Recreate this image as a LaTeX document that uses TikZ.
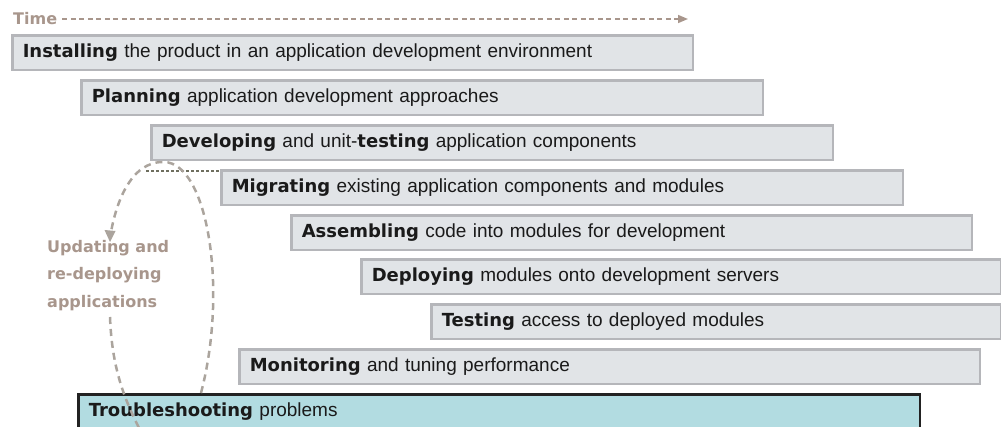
\documentclass[tikz,border=0pt]{standalone}
\usepackage{fontspec}
\setmainfont{Liberation Sans}
\newfontfamily\heavyfam{DejaVu Sans}
\usetikzlibrary{arrows.meta}
\definecolor{boxfill}{HTML}{E1E4E7}
\definecolor{boxline}{HTML}{B5B6BA}
\definecolor{tsfill}{HTML}{B2DCE1}
\definecolor{tsline}{HTML}{222222}
\definecolor{brownish}{HTML}{A8968C}
\definecolor{loopcol}{HTML}{ABA49D}
\definecolor{olivecol}{HTML}{6E6E5E}
\definecolor{txt}{HTML}{1A1A1A}
\newcommand\hv[1]{{\heavyfam\bfseries\fontsize{18}{22}\selectfont #1}}
\tikzset{
  stagebox/.style={draw=boxline, fill=boxfill, line width=2.5pt, rectangle,
    minimum height=34.5pt, inner xsep=10.25pt, inner ysep=0pt, anchor=north west,
    align=left, font=\fontsize{19}{22}\selectfont, text=txt},
  tsbox/.style={stagebox, draw=tsline, fill=tsfill},
  brownlabel/.style={text=brownish, inner sep=0pt, font=\heavyfam\bfseries\fontsize{16}{27.5}\selectfont},
  loopline/.style={draw=loopcol, line width=2.5pt, dash pattern=on 7pt off 5pt},
  timeline/.style={draw=brownish, line width=1.6pt, dash pattern=on 5pt off 3.5pt},
  oliveline/.style={draw=olivecol, line width=2pt, dash pattern=on 3pt off 2pt}
}
\begin{document}
\begin{tikzpicture}[x=1pt,y=-1pt]
\useasboundingbox (0,0) rectangle (1001,427);
\clip (0,0) rectangle (1001,427);
% boxes: (left+1.25, top+1.25), text width = outer width - 2.5 - 20.5
\node[stagebox, text width=680.5pt-20.5pt] (ins) at (11.25,34.25) {\hv{Installing} the product in an application development environment};
\node[stagebox, text width=681.5pt-20.5pt] (pla) at (80.25,79.25) {\hv{Planning} application development approaches};
\node[stagebox, text width=681.5pt-20.5pt] (dev) at (150.25,124.25) {\hv{Developing} and unit-\hv{testing} application components};
\node[stagebox, text width=681.5pt-20.5pt] (mig) at (220.25,169.25) {\hv{Migrating} existing application components and modules};
\node[stagebox, text width=680.5pt-20.5pt] (ass) at (290.25,214.25) {\hv{Assembling} code into modules for development};
\node[stagebox, text width=639.5pt-20.5pt] (dep) at (360.25,258.25) {\hv{Deploying} modules onto development servers};
\node[stagebox, text width=569.5pt-20.5pt] (tes) at (430.25,303.25) {\hv{Testing} access to deployed modules};
\node[stagebox, text width=740.5pt-20.5pt] (mon) at (238.25,348.25) {\hv{Monitoring} and tuning performance};
\node[tsbox, text width=841.5pt-20.5pt] (tro) at (77.25,393.25) {\hv{Troubleshooting} problems};
% time arrow
\node[brownlabel, anchor=west] (time) at (13,19) {Time};
\coordinate (timeend) at (688,19);
\draw[timeline, -{Triangle[length=10pt,width=8pt]}] ([xshift=5pt]time.east) -- (timeend);
% olive dotted connector
\coordinate (d0) at (146,171);
\draw[oliveline] (d0) -- (d0 -| mig.west);
% label
\node[brownlabel, anchor=north west, align=left] (upd) at (47,240) {Updating and\\re-deploying\\applications};
% loop
\coordinate (lp0) at (201,393);
\coordinate (lptop) at (164,162);
\coordinate (lpend) at (110,238);
\coordinate (lq0) at (110,317);
\coordinate (lq1) at (140,430);
\draw[loopline] (lp0) .. controls (228,290) and (208,163) .. (lptop)
  .. controls (130,161) and (115,205) .. (lpend);
\fill[loopcol] (lpend) ++(0,4) -- ++(-5.5,-12) -- ++(11,1) -- cycle;
\draw[loopline] (lq0) .. controls (112,370) and (125,400) .. (lq1);
\end{tikzpicture}
\end{document}
